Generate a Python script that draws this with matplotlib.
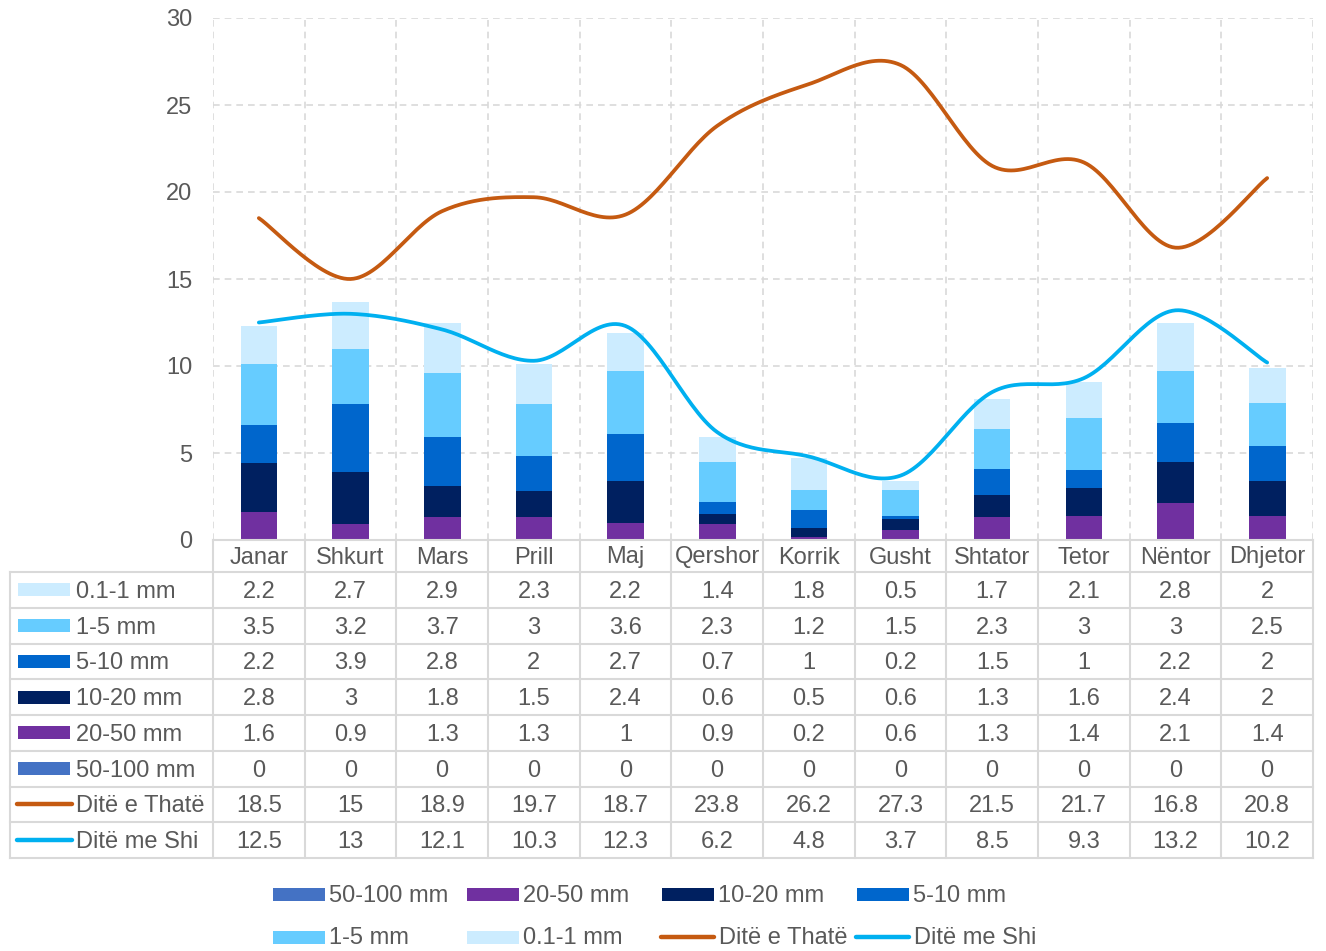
import numpy as np
import matplotlib
matplotlib.use("Agg")
import matplotlib.pyplot as plt
from matplotlib.patches import Rectangle
from matplotlib.lines import Line2D

plt.rcParams['font.family'] = ['Liberation Sans', 'DejaVu Sans']

months = ["Janar", "Shkurt", "Mars", "Prill", "Maj", "Qershor", "Korrik",
          "Gusht", "Shtator", "Tetor", "Nëntor", "Dhjetor"]
r_01_1 = [2.2, 2.7, 2.9, 2.3, 2.2, 1.4, 1.8, 0.5, 1.7, 2.1, 2.8, 2]
r_1_5 = [3.5, 3.2, 3.7, 3, 3.6, 2.3, 1.2, 1.5, 2.3, 3, 3, 2.5]
r_5_10 = [2.2, 3.9, 2.8, 2, 2.7, 0.7, 1, 0.2, 1.5, 1, 2.2, 2]
r_10_20 = [2.8, 3, 1.8, 1.5, 2.4, 0.6, 0.5, 0.6, 1.3, 1.6, 2.4, 2]
r_20_50 = [1.6, 0.9, 1.3, 1.3, 1, 0.9, 0.2, 0.6, 1.3, 1.4, 2.1, 1.4]
r_50_100 = [0, 0, 0, 0, 0, 0, 0, 0, 0, 0, 0, 0]
dry_days = [18.5, 15, 18.9, 19.7, 18.7, 23.8, 26.2, 27.3, 21.5, 21.7, 16.8, 20.8]
wet_days = [12.5, 13, 12.1, 10.3, 12.3, 6.2, 4.8, 3.7, 8.5, 9.3, 13.2, 10.2]
yticks = [0, 5, 10, 15, 20, 25, 30]

bar_series = [("50-100 mm", r_50_100, "#4472C4"),
              ("20-50 mm", r_20_50, "#7030A0"),
              ("10-20 mm", r_10_20, "#002060"),
              ("5-10 mm", r_5_10, "#0066CC"),
              ("1-5 mm", r_1_5, "#66CCFF"),
              ("0.1-1 mm", r_01_1, "#CCECFF")]
line_series = [("Ditë e Thatë", dry_days, "#C55A11"),
               ("Ditë me Shi", wet_days, "#00B0F0")]

W, H = 1326, 951
TXT = "#595959"
GRID = "#D9D9D9"
FS = 17

fig = plt.figure(figsize=(W / 100, H / 100), dpi=100)

# plot area in pixels
L, R, T, B = 213, 1313, 18, 540
ax = fig.add_axes([L / W, 1 - B / H, (R - L) / W, (B - T) / H])
n = len(months)
x = np.arange(n)
ax.set_xlim(-0.5, n - 0.5)
ax.set_ylim(0, 30)
for s in ax.spines.values():
    s.set_visible(False)
ax.set_xticks([])
ax.set_yticks(yticks)
ax.tick_params(axis='y', length=0, pad=15, labelsize=FS, labelcolor=TXT)
for yv in yticks[1:]:
    ax.axhline(yv, color=GRID, lw=1.2, ls=(0, (4, 3)), zorder=0)
for k in range(n + 1):
    ax.axvline(k - 0.5, color=GRID, lw=1.2, ls=(0, (4, 3)), zorder=0)

bottom = np.zeros(n)
for name, vals, col in bar_series:
    v = np.array(vals, dtype=float)
    ax.bar(x, v, width=0.4, bottom=bottom, color=col, zorder=2)
    bottom += v


def smooth(xs, ys, steps=30):
    xs = np.asarray(xs, float)
    ys = np.asarray(ys, float)
    P = np.column_stack([xs, ys])
    out = []
    for i in range(len(P) - 1):
        p0 = P[i - 1] if i > 0 else P[i]
        p1 = P[i]
        p2 = P[i + 1]
        p3 = P[i + 2] if i + 2 < len(P) else P[i + 1]
        c1 = p1 + (p2 - p0) / 6.0
        c2 = p2 - (p3 - p1) / 6.0
        t = np.linspace(0, 1, steps)[:, None]
        seg = ((1 - t) ** 3) * p1 + 3 * ((1 - t) ** 2) * t * c1 + 3 * (1 - t) * t ** 2 * c2 + t ** 3 * p2
        out.append(seg if i == 0 else seg[1:])
    out = np.vstack(out)
    return out[:, 0], out[:, 1]


for name, vals, col in line_series:
    sx, sy = smooth(x, vals)
    ax.plot(sx, sy, color=col, lw=2.7, solid_capstyle='round', zorder=3)

# overlay axes in pixel coords for table & legend
ov = fig.add_axes([0, 0, 1, 1])
ov.set_xlim(0, W)
ov.set_ylim(H, 0)
ov.axis('off')
ov.patch.set_alpha(0)

cw = (R - L) / n
row_top = 572
rh = 35.75
rows = [(name, vals, col, 'bar') for name, vals, col in reversed(bar_series)] + \
       [(name, vals, col, 'line') for name, vals, col in line_series]
nrows = len(rows)
tbl_bottom = row_top + nrows * rh
lw_t = 1.5
# horizontal lines
ov.plot([L, R], [B, B], color=GRID, lw=lw_t)
for k in range(nrows + 1):
    yy = row_top + k * rh
    ov.plot([10, R], [yy, yy], color=GRID, lw=lw_t)
# vertical lines
for k in range(n + 1):
    xx = L + k * cw
    ov.plot([xx, xx], [B, tbl_bottom], color=GRID, lw=lw_t)
ov.plot([10, 10], [row_top, tbl_bottom], color=GRID, lw=lw_t)

# category labels
for i, m in enumerate(months):
    ov.text(L + (i + 0.5) * cw, (B + row_top) / 2 + 1.5, m, ha='center', va='center',
            fontsize=FS, color=TXT)

for r, (name, vals, col, kind) in enumerate(rows):
    yc = row_top + (r + 0.5) * rh
    if kind == 'bar':
        ov.add_patch(Rectangle((18, yc - 6.5), 52, 13, color=col, lw=0))
    else:
        ov.plot([17, 72], [yc, yc], color=col, lw=3.2, solid_capstyle='round')
    ov.text(76, yc + 2, name, ha='left', va='center', fontsize=FS, color=TXT)
    for i, v in enumerate(vals):
        ov.text(L + (i + 0.5) * cw, yc + 2, '{:g}'.format(v), ha='center', va='center',
                fontsize=FS, color=TXT)

# bottom legend
leg_items = [(name, col, 'bar') for name, vals, col in bar_series] + \
            [(name, col, 'line') for name, vals, col in line_series]
cols_x = [273, 467, 662, 857]
rows_y = [894, 937]
for idx, (name, col, kind) in enumerate(leg_items):
    cx = cols_x[idx % 4]
    cy = rows_y[idx // 4]
    if kind == 'bar':
        ov.add_patch(Rectangle((cx, cy - 6.5), 52, 13, color=col, lw=0))
        tx = cx + 56
    else:
        ov.plot([cx - 1, cx + 52], [cy, cy], color=col, lw=3.2, solid_capstyle='round')
        tx = cx + 57
    ov.text(tx, cy + 1.5, name, ha='left', va='center', fontsize=FS, color=TXT)

fig.savefig("out.png", dpi=100, facecolor='white')
